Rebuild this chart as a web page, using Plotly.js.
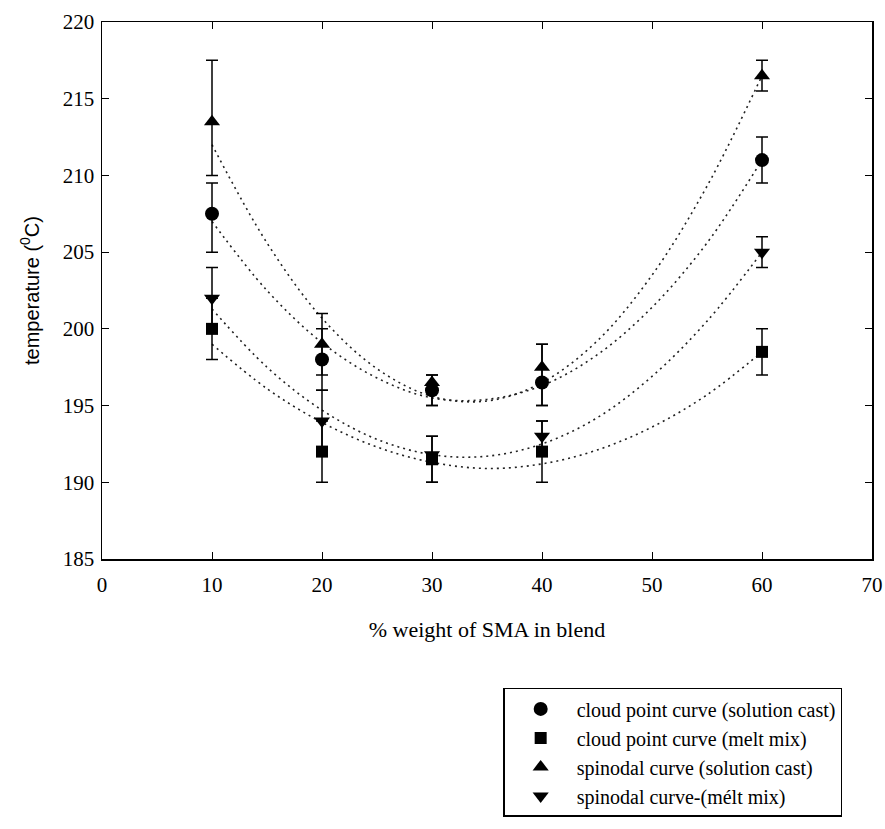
<!DOCTYPE html>
<html>
<head>
<meta charset="utf-8">
<script src="https://cdn.plot.ly/plotly-3.0.1.min.js"></script>
<style>html,body{margin:0;padding:0;background:#fff;}#chart{width:885px;height:829px;}</style>
</head>
<body>
<div id="chart"></div>
<script>
// Measured data (% weight SMA vs temperature)
const xData = [10, 20, 30, 40, 60];

const cloudSolution = [207.5, 198, 196, 196.5, 211];
const cloudSolutionErrPlus = [2, 2, 1, 2.5, 1.5];
const cloudSolutionErrMinus = [2.5, 2, 1, 1.5, 1.5];

const cloudMelt = [200, 192, 191.5, 192, 198.5];
const cloudMeltErrPlus = [2, 2, 1.5, 2, 1.5];
const cloudMeltErrMinus = [2, 2, 1.5, 2, 1.5];

const spinodalSolution = [213.5, 199, 196.5, 197.5, 216.5];
const spinodalSolutionErrPlus = [4, 2, 0.5, 1.5, 1];
const spinodalSolutionErrMinus = [3.5, 2, 1.5, 2.5, 1];

const spinodalMelt = [202, 194, 191.8, 193, 205];
const spinodalMeltErrPlus = [2, 2, 1.2, 1, 1];
const spinodalMeltErrMinus = [2, 2, 1.8, 1, 1];

// Dotted fitted curves
const curveX = [10, 15, 20, 25, 30, 35, 40, 45, 50, 55, 60];
const curveCloudSolution = [207.0, 202.5, 199.1, 196.8, 195.5, 195.4, 196.3, 198.3, 201.4, 205.6, 211.0];
const curveCloudMelt = [199.0, 196.1, 193.9, 192.3, 191.3, 190.9, 191.2, 192.1, 193.6, 195.7, 198.5];
const curveSpinodalSolution = [212.0, 205.6, 200.7, 197.4, 195.6, 195.3, 196.5, 199.2, 203.5, 209.3, 216.5];
const curveSpinodalMelt = [201.3, 197.5, 194.7, 192.8, 191.8, 191.7, 192.5, 194.2, 196.9, 200.5, 205.0];

const legendNames = [
  'cloud point curve (solution cast)',
  'cloud point curve (melt mix)',
  'spinodal curve (solution cast)',
  'spinodal curve-(mélt mix)'
];

const serif = 'Liberation Serif, serif';

function curve(y) {
  return {x: curveX, y: y, mode: 'lines', line: {shape: 'spline', dash: '2px,4px', width: 1.6, color: '#222'},
          showlegend: false, hoverinfo: 'skip'};
}
function pts(y, ep, em, sym, size, name) {
  return {x: xData, y: y, mode: 'markers', name: name,
    marker: {symbol: sym, size: size, color: '#000'},
    error_y: {type: 'data', symmetric: false, array: ep, arrayminus: em, color: '#000', thickness: 1.5, width: 6}};
}

const traces = [
  curve(curveCloudSolution), curve(curveCloudMelt), curve(curveSpinodalSolution), curve(curveSpinodalMelt),
  pts(cloudSolution, cloudSolutionErrPlus, cloudSolutionErrMinus, 'circle', 14, legendNames[0]),
  pts(cloudMelt, cloudMeltErrPlus, cloudMeltErrMinus, 'square', 12, legendNames[1]),
  pts(spinodalSolution, spinodalSolutionErrPlus, spinodalSolutionErrMinus, 'triangle-up', 14, legendNames[2]),
  pts(spinodalMelt, spinodalMeltErrPlus, spinodalMeltErrMinus, 'triangle-down', 14, legendNames[3])
];

const layout = {
  width: 885, height: 829,
  margin: {l: 102, r: 13, t: 22, b: 270},
  paper_bgcolor: '#fff', plot_bgcolor: '#fff',
  font: {family: serif, size: 21, color: '#000'},
  showlegend: true,
  legend: {x: 0.521, y: -0.240, xanchor: 'left', yanchor: 'top', bordercolor: '#000', borderwidth: 1.5,
           bgcolor: '#fff', font: {family: serif, size: 20, color: '#000'}, itemwidth: 62},
  xaxis: {range: [0, 70], dtick: 10, showgrid: false, zeroline: false, showline: true, linecolor: '#000', linewidth: 1.5,
          mirror: 'ticks', ticks: 'inside', ticklen: 7, tickcolor: '#000', ticklabelstandoff: 6,
          title: {text: '% weight of SMA in blend', font: {family: serif, size: 22}, standoff: 26},
          tickfont: {family: serif, size: 21}},
  yaxis: {range: [185, 220], dtick: 5, showgrid: false, zeroline: false, showline: true, linecolor: '#000', linewidth: 1.5,
          mirror: 'ticks', ticks: 'inside', ticklen: 7, tickcolor: '#000', ticklabelstandoff: 2,
          title: {text: 'temperature (<sup>0</sup>C)', font: {family: 'Liberation Sans, sans-serif', size: 20}, standoff: 18},
          tickfont: {family: serif, size: 21}}
};

Plotly.newPlot('chart', traces, layout, {displayModeBar: false, staticPlot: true});
</script>
</body>
</html>
